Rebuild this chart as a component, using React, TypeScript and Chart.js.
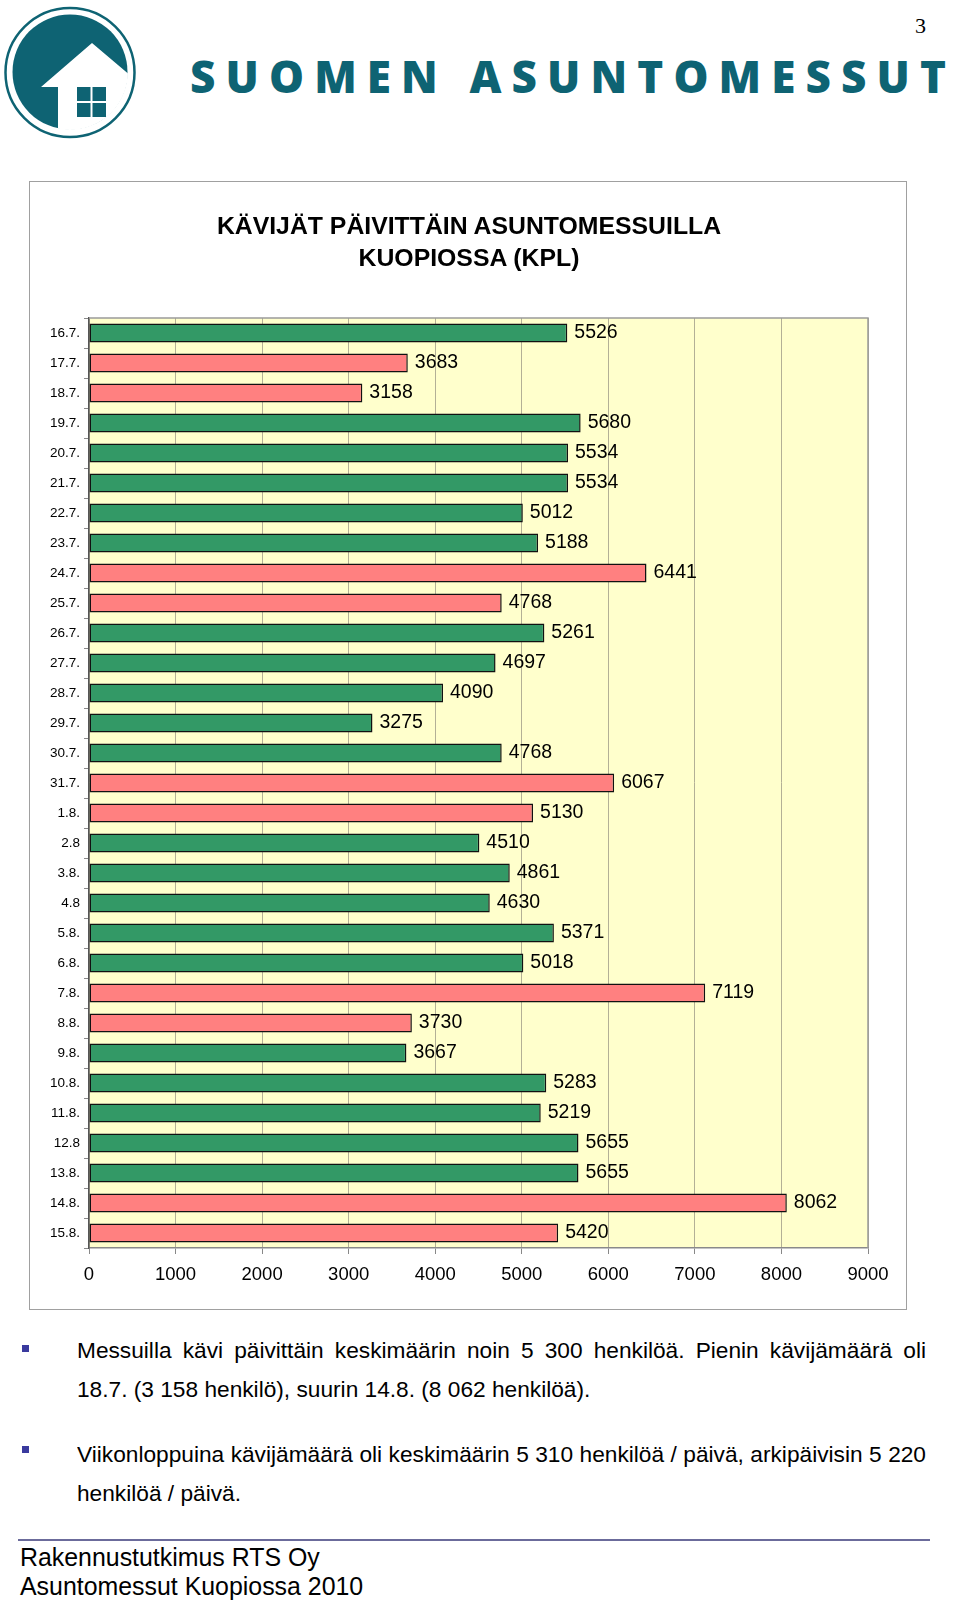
import React, { useEffect, useRef } from "react";
import { Chart, registerables } from "chart.js";

Chart.register(...registerables);

const days = [
  "16.7.", "17.7.", "18.7.", "19.7.", "20.7.", "21.7.", "22.7.", "23.7.",
  "24.7.", "25.7.", "26.7.", "27.7.", "28.7.", "29.7.", "30.7.", "31.7.",
  "1.8.", "2.8", "3.8.", "4.8", "5.8.", "6.8.", "7.8.", "8.8.", "9.8.",
  "10.8.", "11.8.", "12.8", "13.8.", "14.8.", "15.8.",
];

const visitors = [
  5526, 3683, 3158, 5680, 5534, 5534, 5012, 5188,
  6441, 4768, 5261, 4697, 4090, 3275, 4768, 6067,
  5130, 4510, 4861, 4630, 5371, 5018, 7119, 3730, 3667,
  5283, 5219, 5655, 5655, 8062, 5420,
];

// "we" = weekend day, "wd" = weekday
const dayTypes = [
  "wd", "we", "we", "wd", "wd", "wd", "wd", "wd",
  "we", "we", "wd", "wd", "wd", "wd", "wd", "we",
  "we", "wd", "wd", "wd", "wd", "wd", "we", "we", "wd",
  "wd", "wd", "wd", "wd", "we", "we",
];

const xTicks = [0, 1000, 2000, 3000, 4000, 5000, 6000, 7000, 8000, 9000];

const GREEN = "#339966";
const PINK = "#FF8080";
const TEAL = "#0e6373";
const FONT = '"Liberation Sans", Arial, Helvetica, sans-serif';

const CANVAS_W = 878;
const CANVAS_H = 1129;

function Logo() {
  return (
    <svg
      width={140}
      height={145}
      style={{ position: "absolute", left: 0, top: 0 }}
      viewBox="0 0 140 145"
    >
      <defs>
        <clipPath id="disk">
          <circle cx={70} cy={72} r={58} />
        </clipPath>
      </defs>
      <circle cx={70} cy={72.5} r={64.5} fill="none" stroke={TEAL} strokeWidth={2.5} />
      <circle cx={70} cy={72} r={57.5} fill={TEAL} />
      <g clipPath="url(#disk)">
        <polygon
          points="92,43 150,92 150,140 58,140 58,87 41,87"
          fill="#ffffff"
        />
      </g>
      <rect x={77} y={87} width={13.5} height={14} fill={TEAL} />
      <rect x={92.5} y={87} width={13.5} height={14} fill={TEAL} />
      <rect x={77} y={103} width={13.5} height={14} fill={TEAL} />
      <rect x={92.5} y={103} width={13.5} height={14} fill={TEAL} />
    </svg>
  );
}

export default function App() {
  const canvasRef = useRef<HTMLCanvasElement | null>(null);

  useEffect(() => {
    if (!canvasRef.current) return;

    const bgPlugin = {
      id: "plotBg",
      beforeDraw(chart: any) {
        const { ctx, chartArea } = chart;
        ctx.save();
        ctx.fillStyle = "#FFFFCC";
        ctx.fillRect(
          chartArea.left,
          chartArea.top,
          chartArea.right - chartArea.left,
          chartArea.bottom - chartArea.top
        );
        ctx.restore();
      },
      beforeDatasetsDraw(chart: any) {
        const { ctx, chartArea } = chart;
        ctx.save();
        ctx.strokeStyle = "#9a9a9a";
        ctx.lineWidth = 1.5;
        ctx.beginPath();
        ctx.moveTo(chartArea.left, chartArea.top);
        ctx.lineTo(chartArea.right, chartArea.top);
        ctx.lineTo(chartArea.right, chartArea.bottom);
        ctx.stroke();
        ctx.restore();
      },
    };

    const labelPlugin = {
      id: "valueLabels",
      afterDatasetsDraw(chart: any) {
        const { ctx } = chart;
        const meta = chart.getDatasetMeta(0);
        ctx.save();
        ctx.font = `19.5px ${FONT}`;
        ctx.fillStyle = "#000000";
        ctx.textAlign = "left";
        ctx.textBaseline = "middle";
        meta.data.forEach((el: any, i: number) => {
          ctx.fillText(String(visitors[i]), el.x + 7, el.y);
        });
        ctx.restore();
      },
    };

    const chart = new Chart(canvasRef.current, {
      type: "bar",
      data: {
        labels: days,
        datasets: [
          {
            data: visitors,
            backgroundColor: dayTypes.map((t) => (t === "we" ? PINK : GREEN)),
            borderColor: "#111111",
            borderWidth: 1.5,
            borderSkipped: false,
            barPercentage: 0.64,
            categoryPercentage: 1.0,
          },
        ],
      },
      options: {
        indexAxis: "y",
        responsive: false,
        maintainAspectRatio: false,
        animation: false,
        devicePixelRatio: 1,
        layout: {
          padding: { left: 0, top: 137, right: CANVAS_W - 839, bottom: 0 },
        },
        plugins: {
          legend: { display: false },
          tooltip: { enabled: false },
          title: { display: false },
        },
        scales: {
          x: {
            type: "linear",
            position: "bottom",
            min: 0,
            max: 9000,
            afterBuildTicks(scale: any) {
              scale.ticks = xTicks.map((v) => ({ value: v }));
            },
            afterFit(scale: any) {
              scale.height = CANVAS_H - 1067;
            },
            ticks: {
              color: "#000000",
              font: { family: FONT, size: 18.5 },
              padding: 10,
              maxRotation: 0,
              autoSkip: false,
              callback: (v: any) => String(v),
            },
            grid: {
              color: "#b3b096",
              lineWidth: 1,
              drawTicks: true,
              tickLength: 6,
              tickColor: "#888888",
            },
            border: { display: true, color: "#8a8a8a", width: 1.5 },
          },
          y: {
            type: "category",
            afterFit(scale: any) {
              scale.width = 60;
            },
            ticks: {
              color: "#000000",
              font: { family: FONT, size: 13.5 },
              padding: 4,
              autoSkip: false,
            },
            grid: {
              display: true,
              drawOnChartArea: false,
              drawTicks: true,
              tickLength: 5,
              offset: true,
              color: "#888888",
            },
            border: { display: true, color: "#555555", width: 1.5 },
          },
        },
      },
      plugins: [bgPlugin, labelPlugin],
    } as any);

    return () => chart.destroy();
  }, []);

  const textStyle: React.CSSProperties = {
    position: "absolute",
    left: 77,
    width: 849,
    fontFamily: FONT,
    fontSize: 22.7,
    lineHeight: "39px",
    color: "#000",
    whiteSpace: "nowrap",
  };
  const justified: React.CSSProperties = {
    ...textStyle,
    whiteSpace: "normal",
    textAlign: "justify",
    textAlignLast: "justify" as any,
    height: 39,
    overflow: "hidden",
  };
  const bullet = (top: number): React.CSSProperties => ({
    position: "absolute",
    left: 22,
    top,
    width: 7,
    height: 7,
    background: "#3a3a9e",
  });

  return (
    <div
      style={{
        position: "absolute",
        left: 0,
        top: 0,
        width: 960,
        height: 1601,
        background: "#ffffff",
        overflow: "hidden",
      }}
    >
      <Logo />
      <svg
        width={960}
        height={110}
        style={{ position: "absolute", left: 0, top: 0 }}
      >
        <text
          x={190}
          y={93}
          textLength={756}
          lengthAdjust="spacing"
          fill={TEAL}
          style={{
            fontFamily: '"Open Sans", "Noto Sans", sans-serif',
            fontWeight: 800,
            fontSize: 44,
          }}
        >
          SUOMEN ASUNTOMESSUT
        </text>
      </svg>
      <div
        style={{
          position: "absolute",
          left: 915,
          top: 13,
          fontFamily: '"Liberation Serif", "Times New Roman", serif',
          fontSize: 22,
          color: "#000",
        }}
      >
        3
      </div>

      <div
        style={{
          position: "absolute",
          left: 29,
          top: 181,
          width: CANVAS_W - 2,
          height: CANVAS_H - 2,
          border: "1px solid #a0a0a0",
          background: "#ffffff",
        }}
      />
      <canvas
        ref={canvasRef}
        width={CANVAS_W}
        height={CANVAS_H}
        style={{
          position: "absolute",
          left: 29,
          top: 181,
          width: CANVAS_W,
          height: CANVAS_H,
        }}
      />
      <div
        style={{
          position: "absolute",
          left: 29,
          top: 210,
          width: 880,
          textAlign: "center",
          fontFamily: FONT,
          fontWeight: 700,
          fontSize: 24.8,
          lineHeight: "32px",
          color: "#000",
        }}
      >
        KÄVIJÄT PÄIVITTÄIN ASUNTOMESSUILLA
        <br />
        KUOPIOSSA (KPL)
      </div>

      <div style={bullet(1345)} />
      <div style={{ ...justified, top: 1331 }}>
        Messuilla kävi päivittäin keskimäärin noin 5&nbsp;300 henkilöä. Pienin kävijämäärä oli
      </div>
      <div style={{ ...textStyle, top: 1370 }}>
        18.7. (3&nbsp;158 henkilö), suurin 14.8. (8&nbsp;062 henkilöä).
      </div>

      <div style={bullet(1446)} />
      <div style={{ ...justified, top: 1435 }}>
        Viikonloppuina kävijämäärä oli keskimäärin 5&nbsp;310 henkilöä / päivä, arkipäivisin 5&nbsp;220
      </div>
      <div style={{ ...textStyle, top: 1474 }}>henkilöä / päivä.</div>

      <div
        style={{
          position: "absolute",
          left: 18,
          top: 1539,
          width: 912,
          height: 2,
          background: "#6b6b9b",
        }}
      />
      <div
        style={{
          position: "absolute",
          left: 20,
          top: 1543,
          fontFamily: FONT,
          fontSize: 24.9,
          lineHeight: "29px",
          color: "#000",
          whiteSpace: "nowrap",
        }}
      >
        Rakennustutkimus RTS Oy
        <br />
        Asuntomessut Kuopiossa 2010
      </div>
    </div>
  );
}
